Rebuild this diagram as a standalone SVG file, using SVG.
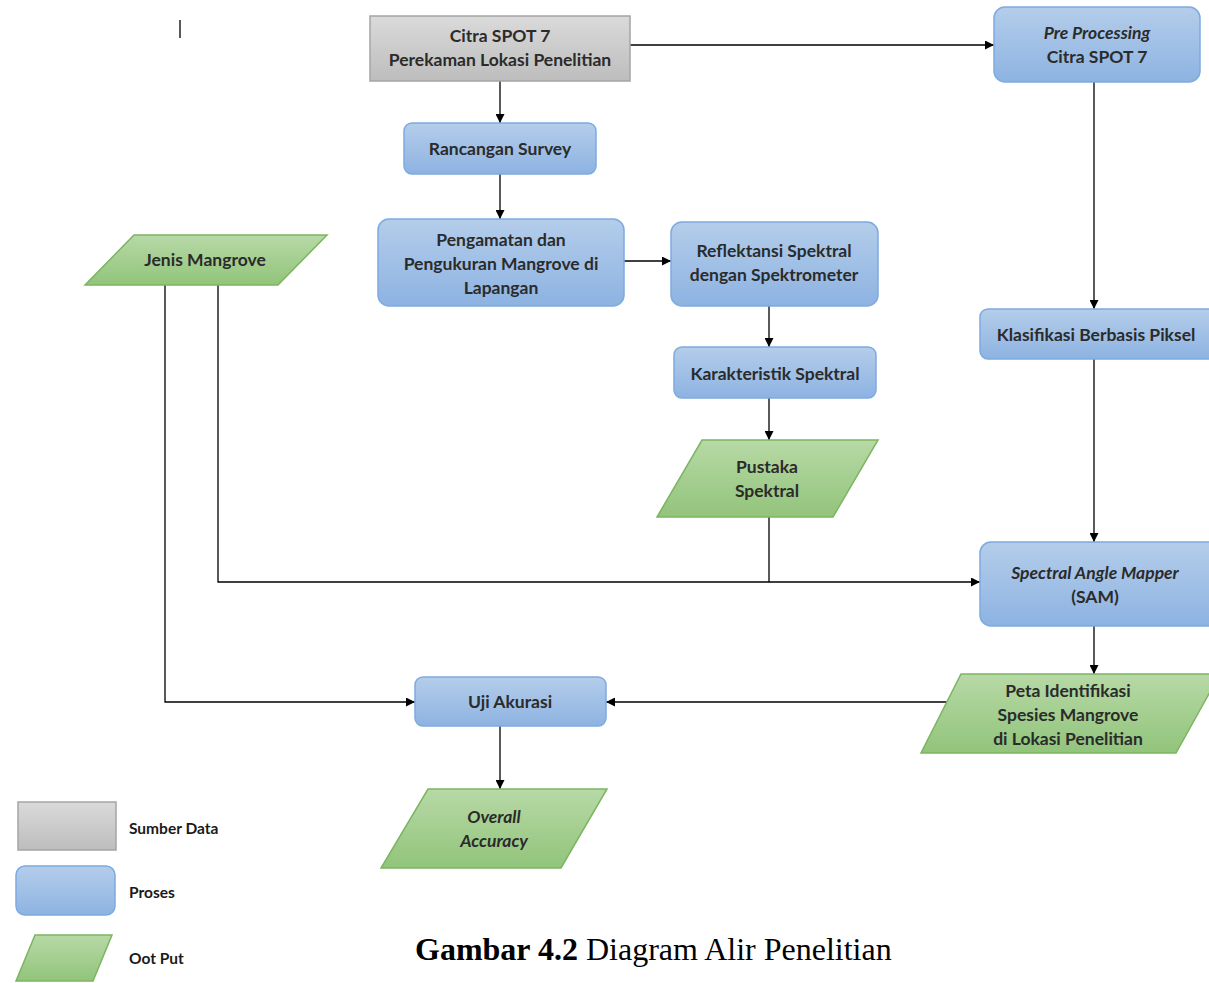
<svg xmlns="http://www.w3.org/2000/svg" width="1209" height="983" viewBox="0 0 1209 983">
<defs>
<linearGradient id="gGray" x1="0" y1="0" x2="0" y2="1"><stop offset="0" stop-color="#dadada"/><stop offset="1" stop-color="#bdbdbd"/></linearGradient>
<linearGradient id="gBlue" x1="0" y1="0" x2="0" y2="1"><stop offset="0" stop-color="#b4cdea"/><stop offset="1" stop-color="#8db3e2"/></linearGradient>
<linearGradient id="gGreen" x1="0" y1="0" x2="0" y2="1"><stop offset="0" stop-color="#b7d9a6"/><stop offset="1" stop-color="#92c47b"/></linearGradient>
<marker id="arr" viewBox="0 0 10 10" refX="10" refY="5" markerWidth="9" markerHeight="9" markerUnits="userSpaceOnUse" orient="auto"><path d="M0,0 L10,5 L0,10 z" fill="#000"/></marker>
<clipPath id="clipPeng"><rect x="378" y="219" width="246" height="78"/></clipPath>
</defs>
<style>
.gray{fill:url(#gGray);stroke:#a5a5a5;stroke-width:1.5}
.blue{fill:url(#gBlue);stroke:#7eaadf;stroke-width:1.5}
.green{fill:url(#gGreen);stroke:#7cb561;stroke-width:1.5}
.t{font-family:Lato,"Open Sans",sans-serif;font-weight:bold;font-size:17.5px;fill:#2b2b2b;text-anchor:middle}
.i{font-style:italic}
.lg{font-family:Lato,"Open Sans",sans-serif;font-weight:bold;font-size:15.5px;fill:#1a1a1a}
.c{fill:none;stroke:#000;stroke-width:1.3}
.ca{fill:none;stroke:#000;stroke-width:1.3;marker-end:url(#arr)}
</style>
<rect width="1209" height="983" fill="#fff"/>
<line x1="180" y1="20" x2="180" y2="38" stroke="#222" stroke-width="1.5"/>

<g id="connectors">
<line class="ca" x1="630" y1="45" x2="994" y2="45"/>
<line class="ca" x1="500" y1="81" x2="500" y2="123"/>
<line class="ca" x1="500" y1="174" x2="500" y2="219"/>
<line class="ca" x1="624" y1="261" x2="671" y2="261"/>
<line class="ca" x1="769" y1="306" x2="769" y2="347"/>
<line class="ca" x1="769" y1="398" x2="769" y2="440"/>
<line class="ca" x1="1094" y1="82" x2="1094" y2="309"/>
<line class="ca" x1="1094" y1="359" x2="1094" y2="542"/>
<line class="c" x1="769" y1="517" x2="769" y2="582"/>
<polyline class="ca" points="218,285 218,582 980,582"/>
<polyline class="ca" points="165,285 165,702 415,702"/>
<line class="ca" x1="947" y1="702" x2="606" y2="702"/>
<line class="ca" x1="1094" y1="626" x2="1094" y2="674"/>
<line class="ca" x1="500" y1="726" x2="500" y2="789"/>
</g>

<g id="citra">
<rect class="gray" x="370" y="16" width="260" height="65"/>
<text class="t" x="500" y="42">Citra SPOT 7</text>
<text class="t" x="500" y="66">Perekaman Lokasi Penelitian</text>
</g>
<g id="preprocessing">
<rect class="blue" x="994" y="7" width="206" height="75" rx="11"/>
<text class="t i" x="1097" y="39">Pre Processing</text>
<text class="t" x="1097" y="63">Citra SPOT 7</text>
</g>
<g id="rancangan">
<rect class="blue" x="404" y="123" width="192" height="51" rx="8"/>
<text class="t" x="500" y="155">Rancangan Survey</text>
</g>
<g id="pengamatan">
<rect class="blue" x="378" y="219" width="246" height="87" rx="11"/>
<text class="t" x="501" y="246">Pengamatan dan</text>
<text class="t" x="501" y="270">Pengukuran Mangrove di</text>
<text class="t" x="501" y="294" clip-path="url(#clipPeng)">Lapangan</text>
</g>
<g id="reflektansi">
<rect class="blue" x="671" y="222" width="207" height="84" rx="11"/>
<text class="t" x="774" y="257">Reflektansi Spektral</text>
<text class="t" x="774" y="281">dengan Spektrometer</text>
</g>
<g id="karakteristik">
<rect class="blue" x="674" y="347" width="202" height="51" rx="8"/>
<text class="t" x="775" y="380">Karakteristik Spektral</text>
</g>
<g id="pustaka">
<polygon class="green" points="702,440 878,440 833,517 657,517"/>
<text class="t" x="767" y="473">Pustaka</text>
<text class="t" x="767" y="497">Spektral</text>
</g>
<g id="jenis">
<polygon class="green" points="134,235 327,235 278,285 85,285"/>
<text class="t" x="205" y="266">Jenis Mangrove</text>
</g>
<g id="klasifikasi">
<rect class="blue" x="980" y="309" width="240" height="50" rx="8"/>
<text class="t" x="1096" y="341">Klasifikasi Berbasis Piksel</text>
</g>
<g id="sam">
<rect class="blue" x="980" y="542" width="240" height="84" rx="11"/>
<text class="t i" x="1095" y="579">Spectral Angle Mapper</text>
<text class="t" x="1095" y="603">(SAM)</text>
</g>
<g id="peta">
<polygon class="green" points="961,674 1220,674 1176,753 921,753"/>
<text class="t" x="1068" y="697">Peta Identifikasi</text>
<text class="t" x="1068" y="721">Spesies Mangrove</text>
<text class="t" x="1068" y="745">di Lokasi Penelitian</text>
</g>
<g id="uji">
<rect class="blue" x="415" y="677" width="191" height="49" rx="8"/>
<text class="t" x="510" y="708">Uji Akurasi</text>
</g>
<g id="overall">
<polygon class="green" points="428,789 607,789 561,868 381,868"/>
<text class="t i" x="494" y="823">Overall</text>
<text class="t i" x="494" y="847">Accuracy</text>
</g>

<g id="legend">
<rect class="gray" x="18" y="802" width="98" height="48"/>
<text class="lg" x="129" y="834">Sumber Data</text>
<rect class="blue" x="16" y="866" width="99" height="49" rx="9"/>
<text class="lg" x="129" y="898">Proses</text>
<polygon class="green" points="35,935 112,935 93,981 16,981"/>
<text class="lg" x="129" y="964">Oot Put</text>
</g>

<text x="415" y="960" font-family="'Liberation Serif',serif" font-size="32" fill="#000"><tspan font-weight="bold">Gambar 4.2</tspan> Diagram Alir Penelitian</text>
</svg>
